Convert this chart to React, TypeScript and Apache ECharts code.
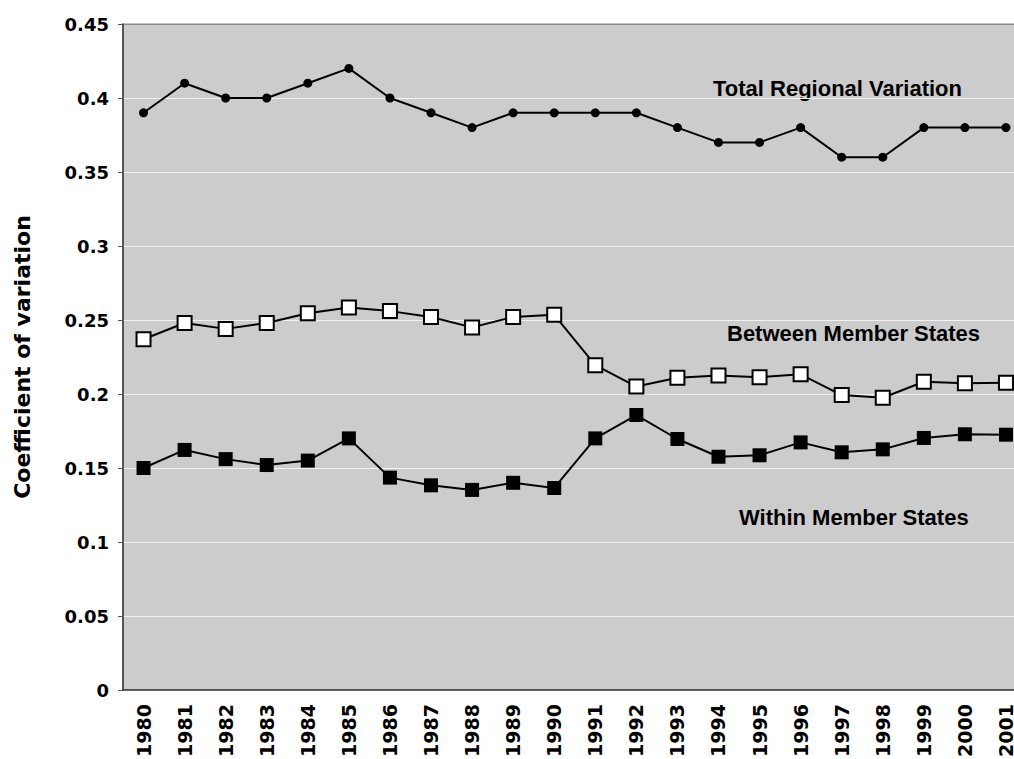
import React, { useEffect, useRef } from "react";
import * as echarts from "echarts";

const years = ["1980","1981","1982","1983","1984","1985","1986","1987","1988","1989","1990","1991","1992","1993","1994","1995","1996","1997","1998","1999","2000","2001"];
const totalRegional = [0.39,0.41,0.40,0.40,0.41,0.42,0.40,0.39,0.38,0.39,0.39,0.39,0.39,0.38,0.37,0.37,0.38,0.36,0.36,0.38,0.38,0.38];
const betweenStates = [0.237,0.248,0.244,0.248,0.2545,0.2585,0.256,0.252,0.245,0.252,0.2535,0.2195,0.205,0.211,0.2125,0.2113,0.2133,0.1993,0.1975,0.2083,0.2072,0.2076];
const withinStates = [0.150,0.1622,0.156,0.152,0.155,0.170,0.1435,0.1383,0.1352,0.140,0.1365,0.170,0.1858,0.1696,0.1576,0.1586,0.1673,0.1606,0.1626,0.1703,0.1728,0.1725];
const seriesLabels = ["Total Regional Variation", "Between Member States", "Within Member States"];
const yAxisTitle = "Coefficient of variation";

export default function App() {
  const ref = useRef<HTMLDivElement>(null);
  useEffect(() => {
    if (!ref.current) return;
    const chart = echarts.init(ref.current, null, { renderer: "svg" });
    const tickFont = { fontFamily: "DejaVu Sans", fontWeight: "bold" as const, fontSize: 18, color: "#000" };
    const annFont = { fontFamily: "Liberation Sans", fontWeight: "bold" as const, fontSize: 22, fill: "#000" };
    chart.setOption({
      animation: false,
      backgroundColor: "#fff",
      grid: {
        left: 123, top: 24, width: 903.5, height: 666,
        outerBoundsMode: "none",
        containLabel: false,
        show: true, backgroundColor: "#cccccc", borderColor: "#8a8a8a", borderWidth: 1,
      },
      xAxis: {
        type: "category",
        data: years,
        boundaryGap: true,
        axisLine: { lineStyle: { color: "#333", width: 1.5 } },
        axisTick: { length: 5, lineStyle: { color: "#555" } },
        axisLabel: { ...tickFont, fontSize: 19, rotate: 90, margin: 14, interval: 0 },
      },
      yAxis: {
        type: "value",
        min: 0, max: 0.45, interval: 0.05,
        name: yAxisTitle,
        nameLocation: "middle",
        nameRotate: 90,
        nameGap: 90,
        nameTextStyle: { fontFamily: "DejaVu Sans", fontWeight: "bold", fontSize: 22, color: "#000" },
        axisLine: { show: true, lineStyle: { color: "#333", width: 1.5 } },
        axisTick: { show: true, length: 5, lineStyle: { color: "#555" } },
        axisLabel: { ...tickFont, margin: 14 },
        splitLine: {
          show: true,
          lineStyle: { color: ["#ffffff","#f2f2f2","#f2f2f2","#f2f2f2","#f2f2f2","#f2f2f2","#f2f2f2","#f2f2f2","#f2f2f2","#8a8a8a"], width: 1 },
        },
      },
      series: [
        {
          name: seriesLabels[0], type: "line", data: totalRegional,
          symbol: "circle", symbolSize: 9,
          lineStyle: { color: "#000", width: 2 },
          itemStyle: { color: "#000" },
        },
        {
          name: seriesLabels[1], type: "line", data: betweenStates,
          symbol: "rect", symbolSize: 14,
          lineStyle: { color: "#000", width: 2 },
          itemStyle: { color: "#fff", borderColor: "#000", borderWidth: 2 },
        },
        {
          name: seriesLabels[2], type: "line", data: withinStates,
          symbol: "rect", symbolSize: 14,
          lineStyle: { color: "#000", width: 2 },
          itemStyle: { color: "#000" },
        },
      ],
      graphic: [
        { type: "text", left: 713, top: 77, style: { ...annFont, text: seriesLabels[0] } },
        { type: "text", left: 727, top: 322, style: { ...annFont, text: seriesLabels[1] } },
        { type: "text", left: 739, top: 506, style: { ...annFont, text: seriesLabels[2] } },
      ],
    });
    return () => chart.dispose();
  }, []);
  return <div ref={ref} style={{ position: "absolute", left: 0, top: 0, width: 1014, height: 759 }} />;
}
